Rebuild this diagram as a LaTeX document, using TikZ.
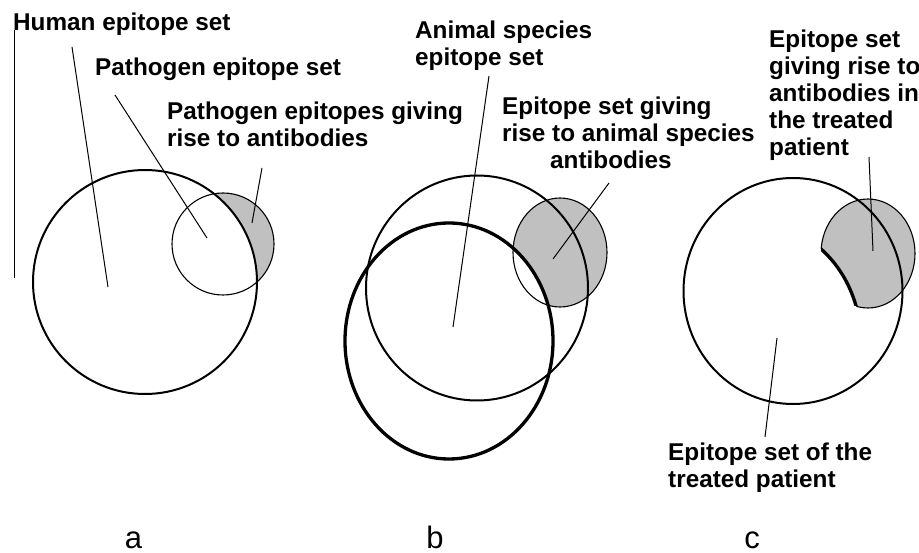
\documentclass[tikz,border=0pt]{standalone}
\usepackage{fontspec}
\setmainfont{Liberation Sans}
\definecolor{fillgray}{HTML}{C0C0C0}
\tikzset{
  lab/.style={font=\fontsize{24.3}{27}\selectfont\bfseries, inner sep=0pt, anchor=north west, align=left},
  panel/.style={font=\fontsize{31}{31}\selectfont, inner sep=0pt, anchor=base},
  ptr/.style={line width=1pt},
  thinc/.style={line width=1.1pt},
  medc/.style={line width=2pt},
  thickc/.style={line width=3.3pt},
}
\begin{document}
\begin{tikzpicture}[x=1pt,y=-1pt]
\useasboundingbox (0,0) rectangle (919,553);
% ---------- panel a ----------
\fill[fillgray] (223,244) circle (51);
\begin{scope}
  \clip (223,244) circle (52);
  \fill[white] (145,282) circle (112);
\end{scope}
\draw[thinc] (223,244) circle (51);
\draw[medc] (145,282) circle (112);
\node[lab] (hum) at (13,12.5) {Human epitope set};
\node[lab] (pth) at (95,58) {Pathogen epitope set};
\node[lab] (pab) at (167,101.5) {Pathogen epitopes giving\\rise to antibodies};
\coordinate (v1) at (14,30); \coordinate (v2) at (14,278);
\coordinate (h1) at (72,47); \coordinate (h2) at (108,287);
\coordinate (p1) at (115,95); \coordinate (p2) at (207,238);
\coordinate (g1) at (262,168); \coordinate (g2) at (252,223);
\draw[ptr] (v1) -- (v2);
\draw[ptr] (h1) -- (h2);
\draw[ptr] (p1) -- (p2);
\draw[ptr] (g1) -- (g2);
\node[panel] (la) at (133.5,548) {a};
% ---------- panel b ----------
\fill[fillgray] (560,252.5) ellipse [x radius=47, y radius=54.5];
\begin{scope}
  \clip (560,252.5) ellipse [x radius=48, y radius=55.5];
  \fill[white] (449,341) ellipse [x radius=104, y radius=118];
\end{scope}
\draw[thinc] (560,252.5) ellipse [x radius=47, y radius=54.5];
\draw[medc] (477,288) ellipse [x radius=111, y radius=112.5];
\draw[thickc] (449,341) ellipse [x radius=104, y radius=118];
\node[lab] (ani) at (415,20.5) {Animal species\\epitope set};
\node[lab] (esg) at (502,96.5) {Epitope set giving\\rise to animal species\\\hspace*{48pt}antibodies};
\coordinate (a1) at (489,76); \coordinate (a2) at (453,327);
\coordinate (e1) at (609,183); \coordinate (e2) at (553,259);
\draw[ptr] (a1) -- (a2);
\draw[ptr] (e1) -- (e2);
\node[panel] (lb) at (435,548) {b};
% ---------- panel c ----------
\fill[fillgray] (868,253.5) ellipse [x radius=47, y radius=54.5];
\draw[thinc] (868,253.5) ellipse [x radius=47, y radius=54.5];
\begin{scope}
  \clip (868,253.5) ellipse [x radius=48.5, y radius=56];
  \fill[white] (757,342) ellipse [x radius=104, y radius=118];
\end{scope}
\begin{scope}
  \clip (868,253.5) ellipse [x radius=47, y radius=54.5];
  \draw[thickc] (757,342) ellipse [x radius=104, y radius=118];
\end{scope}
\draw[medc] (793,291) ellipse [x radius=109.5, y radius=113];
\node[lab] (ctop) at (769,29.5) {Epitope set\\giving rise to\\antibodies in\\the treated\\patient};
\node[lab] (cbot) at (668,442.5) {Epitope set of the\\treated patient};
\coordinate (t1) at (869,157); \coordinate (t2) at (873,251);
\coordinate (b1) at (777,338); \coordinate (b2) at (765,437);
\draw[ptr] (t1) -- (t2);
\draw[ptr] (b1) -- (b2);
\node[panel] (lc) at (752,548) {c};
\end{tikzpicture}
\end{document}
